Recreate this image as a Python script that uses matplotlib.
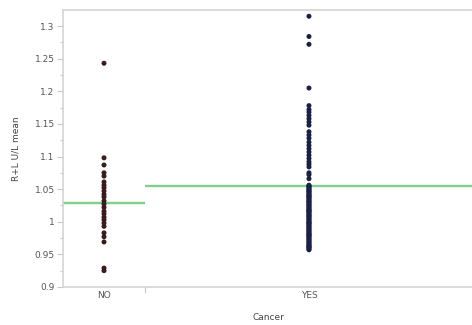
import matplotlib
matplotlib.use("Agg")
import matplotlib.pyplot as plt
import numpy as np

categories = ["NO", "YES"]
no_values = [1.243, 1.098, 1.087, 1.075, 1.070, 1.061, 1.056, 1.052, 1.047, 1.042,
             1.038, 1.032, 1.027, 1.022, 1.016, 1.012, 1.007, 1.003, 0.998, 0.993,
             0.983, 0.977, 0.969, 0.929, 0.925]
yes_values = [1.315, 1.284, 1.272, 1.205, 1.178, 1.172, 1.168, 1.163, 1.158, 1.153,
              1.148, 1.138, 1.133, 1.128, 1.122, 1.117, 1.112, 1.107, 1.102, 1.097,
              1.092, 1.088, 1.084, 1.075, 1.072, 1.066,
              1.056, 1.055, 1.054, 1.053, 1.051, 1.050, 1.048, 1.047, 1.046, 1.044,
              1.043, 1.041, 1.040, 1.039, 1.038, 1.037, 1.035, 1.034, 1.032, 1.031,
              1.030, 1.028, 1.027, 1.025, 1.024, 1.022, 1.021, 1.019, 1.018, 1.017,
              1.016, 1.015, 1.013, 1.012, 1.010, 1.009, 1.008, 1.006, 1.005, 1.003,
              1.002, 1.000, 0.999, 0.998, 0.997, 0.996, 0.994, 0.993, 0.991, 0.990,
              0.988, 0.987, 0.985, 0.984, 0.982, 0.981, 0.980, 0.979, 0.978, 0.976,
              0.975, 0.973, 0.972, 0.970, 0.969, 0.967, 0.966, 0.964, 0.963, 0.962,
              0.961, 0.960, 0.958, 0.957]
group_means = [1.028, 1.055]
y_ticks = [0.9, 0.95, 1.0, 1.05, 1.1, 1.15, 1.2, 1.25, 1.3]
y_tick_labels = ["0.9", "0.95", "1", "1.05", "1.1", "1.15", "1.2", "1.25", "1.3"]
dot_colors = ["#3b1c1e", "#1b2146"]

fig = plt.figure(figsize=(4.72, 3.25), dpi=100)
ax = fig.add_axes([0.1335, 0.117, 0.8685, 0.852])

groups = [no_values, yes_values]
counts = [len(g) for g in groups]
edges = np.concatenate([[0], np.cumsum(counts)])
centers = (edges[:-1] + edges[1:]) / 2

for i, vals in enumerate(groups):
    ax.scatter(np.full(len(vals), centers[i]), vals, s=13, color=dot_colors[i],
               edgecolors="none", zorder=3)
    ax.plot([edges[i], edges[i + 1]], [group_means[i], group_means[i]],
            color="#80cf8a", lw=1.7, zorder=2, solid_capstyle="butt")

ax.set_xlim(edges[0], edges[-1])
ax.set_ylim(0.9, 1.3245)

ax.set_yticks(y_ticks)
ax.set_yticklabels(y_tick_labels)
ax.set_yticks(np.arange(0.925, 1.3, 0.05), minor=True)
ax.set_xticks(centers)
ax.set_xticklabels(categories)
ax.set_xticks(edges[1:-1], minor=True)

ax.tick_params(axis="y", which="major", length=4, width=0.8, color="#c8c8c8",
               labelsize=6.5, labelcolor="#555555", pad=2)
ax.tick_params(axis="y", which="minor", length=2.5, width=0.8, color="#c8c8c8")
ax.tick_params(axis="x", which="major", length=0, labelsize=6.5,
               labelcolor="#555555", pad=3)
ax.tick_params(axis="x", which="minor", length=4, width=0.8, color="#c8c8c8")

for side in ["left", "bottom", "top"]:
    ax.spines[side].set_color("#d4d4d4")
    ax.spines[side].set_linewidth(1.2)
ax.spines["right"].set_visible(False)

ax.set_ylabel("R+L U/L mean", fontsize=6.5, color="#444444", labelpad=10)
ax.set_xlabel("Cancer", fontsize=6.5, color="#444444", labelpad=9)

fig.savefig("out.png", dpi=100)
